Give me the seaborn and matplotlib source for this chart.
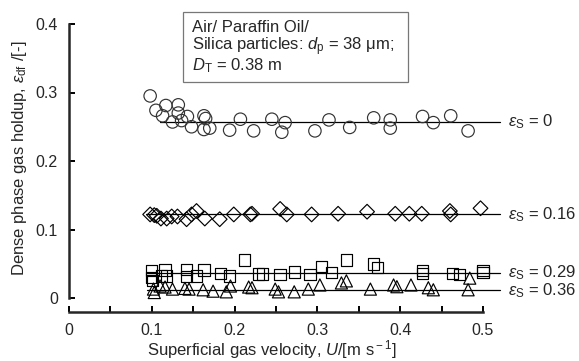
import matplotlib
matplotlib.use("Agg")
import matplotlib.pyplot as plt
from matplotlib.patches import Rectangle
import numpy as np
import pandas as pd
import seaborn as sns

# Superficial gas velocity U [m/s] and dense-phase gas holdup for each solids loading
u_es0 = [0.098, 0.105, 0.117, 0.132, 0.113, 0.132, 0.125, 0.136, 0.143, 0.148,
         0.163, 0.165, 0.163, 0.170, 0.194, 0.207, 0.223, 0.245, 0.261, 0.257,
         0.297, 0.314, 0.339, 0.368, 0.388, 0.388, 0.427, 0.440, 0.461, 0.482]
eps_es0 = [0.295, 0.274, 0.281, 0.282, 0.266, 0.270, 0.257, 0.259, 0.265, 0.250,
           0.266, 0.262, 0.246, 0.248, 0.245, 0.261, 0.244, 0.261, 0.256, 0.242,
           0.244, 0.260, 0.249, 0.263, 0.260, 0.248, 0.265, 0.256, 0.266, 0.244]

u_es16 = [0.098, 0.103, 0.106, 0.111, 0.118, 0.124, 0.131, 0.142, 0.148, 0.154,
          0.164, 0.182, 0.199, 0.219, 0.221, 0.255, 0.263, 0.293, 0.325, 0.360,
          0.394, 0.411, 0.426, 0.460, 0.461, 0.497]
eps_es16 = [0.122, 0.121, 0.120, 0.116, 0.116, 0.119, 0.119, 0.115, 0.122, 0.127,
            0.116, 0.115, 0.122, 0.122, 0.123, 0.130, 0.122, 0.122, 0.123, 0.126,
            0.123, 0.123, 0.123, 0.127, 0.122, 0.131]

u_es29 = [0.100, 0.100, 0.101, 0.112, 0.116, 0.118, 0.142, 0.142, 0.154, 0.163,
          0.183, 0.194, 0.212, 0.229, 0.234, 0.255, 0.272, 0.291, 0.305, 0.317,
          0.335, 0.368, 0.373, 0.427, 0.427, 0.463, 0.472, 0.500, 0.500]
eps_es29 = [0.040, 0.030, 0.026, 0.032, 0.041, 0.032, 0.042, 0.031, 0.032, 0.041,
            0.036, 0.032, 0.0555, 0.035, 0.035, 0.034, 0.038, 0.034, 0.046, 0.037,
            0.0555, 0.0496, 0.045, 0.040, 0.036, 0.036, 0.034, 0.040, 0.037]

u_es36 = [0.102, 0.103, 0.110, 0.116, 0.125, 0.140, 0.145, 0.162, 0.174, 0.190,
          0.195, 0.217, 0.221, 0.249, 0.253, 0.272, 0.289, 0.303, 0.329, 0.335,
          0.364, 0.392, 0.396, 0.413, 0.434, 0.440, 0.484, 0.482]
eps_es36 = [0.013, 0.008, 0.0175, 0.016, 0.013, 0.014, 0.013, 0.012, 0.010, 0.009,
            0.0175, 0.016, 0.015, 0.013, 0.009, 0.009, 0.013, 0.019, 0.022, 0.025,
            0.013, 0.019, 0.0165, 0.019, 0.015, 0.012, 0.029, 0.012]

# Mean holdup per solids loading (horizontal lines) and their x-extent
series_labels = ["0", "0.16", "0.29", "0.36"]
mean_holdup = [0.257, 0.122, 0.037, 0.011]
line_start = [0.110, 0.093, 0.094, 0.094]
line_end = 0.52

x_ticks = [0, 0.1, 0.2, 0.3, 0.4, 0.5]
x_ticklabels = ["0", "0.1", "0.2", "0.3", "0.4", "0.5"]
y_ticks = [0, 0.1, 0.2, 0.3, 0.4]
y_ticklabels = ["0", "0.1", "0.2", "0.3", "0.4"]

sns.set_style("ticks")
plt.rcParams["font.family"] = ["Liberation Sans", "DejaVu Sans"]
plt.rcParams["mathtext.fontset"] = "custom"
plt.rcParams["mathtext.rm"] = "Liberation Sans"
plt.rcParams["mathtext.it"] = "Liberation Sans:italic"
plt.rcParams["mathtext.bf"] = "Liberation Sans:bold"

FS = 12
TICK_FS = 11.5

fig = plt.figure(figsize=(5.79, 3.61), dpi=100)
W, H = 579, 361
ax = fig.add_axes([69 / W, 1 - 298 / H, 414 / W, 274 / H])

series = [
    (u_es0, eps_es0, "o", 80, "#333333"),
    (u_es16, eps_es16, "D", 56, "black"),
    (u_es29, eps_es29, "s", 66, "black"),
    (u_es36, eps_es36, "^", 76, "black"),
]
for u, e, mk, size, ec in series:
    df = pd.DataFrame({"U": u, "eps": e})
    sns.scatterplot(data=df, x="U", y="eps", marker=mk, s=size,
                    facecolor="none", edgecolor=ec, linewidth=0.85,
                    ax=ax, clip_on=False, zorder=3)

for lab, m, x0 in zip(series_labels, mean_holdup, line_start):
    ax.plot([x0, line_end], [m, m], color="black", lw=0.9, clip_on=False, zorder=2)
    ax.text(0.530, m, r"$\varepsilon_{\rm S}$ = " + lab, fontsize=FS,
            va="center", ha="left", clip_on=False)

ax.set_xlim(0, 0.5)
ax.set_ylim(0, 0.4)
ax.set_xticks(x_ticks)
ax.set_xticklabels(x_ticklabels)
ax.set_xticks(np.arange(0.05, 0.5, 0.1), minor=True)
ax.set_yticks(y_ticks)
ax.set_yticklabels(y_ticklabels)

for side in ("top", "right"):
    ax.spines[side].set_visible(False)
for side in ("left", "bottom"):
    ax.spines[side].set_linewidth(1.8)
ax.spines["bottom"].set_position(("outward", 10))

ax.tick_params(axis="both", which="both", direction="in", length=4, width=1.4,
               labelsize=TICK_FS, color="black")
ax.tick_params(axis="x", which="both", pad=8)
ax.tick_params(axis="y", pad=8)

ax.set_xlabel(r"Superficial gas velocity, $U$/[m s$^{\rm -1}$]", fontsize=FS)
ax.set_ylabel(r"Dense phase gas holdup, $\varepsilon_{\rm df}$ /[-]", fontsize=FS)
ax.xaxis.set_label_coords(0.49, -0.145)
ax.yaxis.set_label_coords(-0.097, 0.51)

# Annotation box with the system description
fig.patches.append(Rectangle((183 / W, 1 - 82 / H), 225 / W, 70 / H,
                             transform=fig.transFigure, fill=False,
                             edgecolor="#777777", linewidth=0.9))
fig.text(192 / W, 1 - 27 / H, "Air/ Paraffin Oil/", fontsize=FS, va="center")
fig.text(192 / W, 1 - 47 / H, r"Silica particles: $d_{\rm p}$ = 38 μm;", fontsize=FS, va="center")
fig.text(192 / W, 1 - 66 / H, r"$D_{\rm T}$ = 0.38 m", fontsize=FS, va="center")

fig.savefig("out.png", dpi=100)
